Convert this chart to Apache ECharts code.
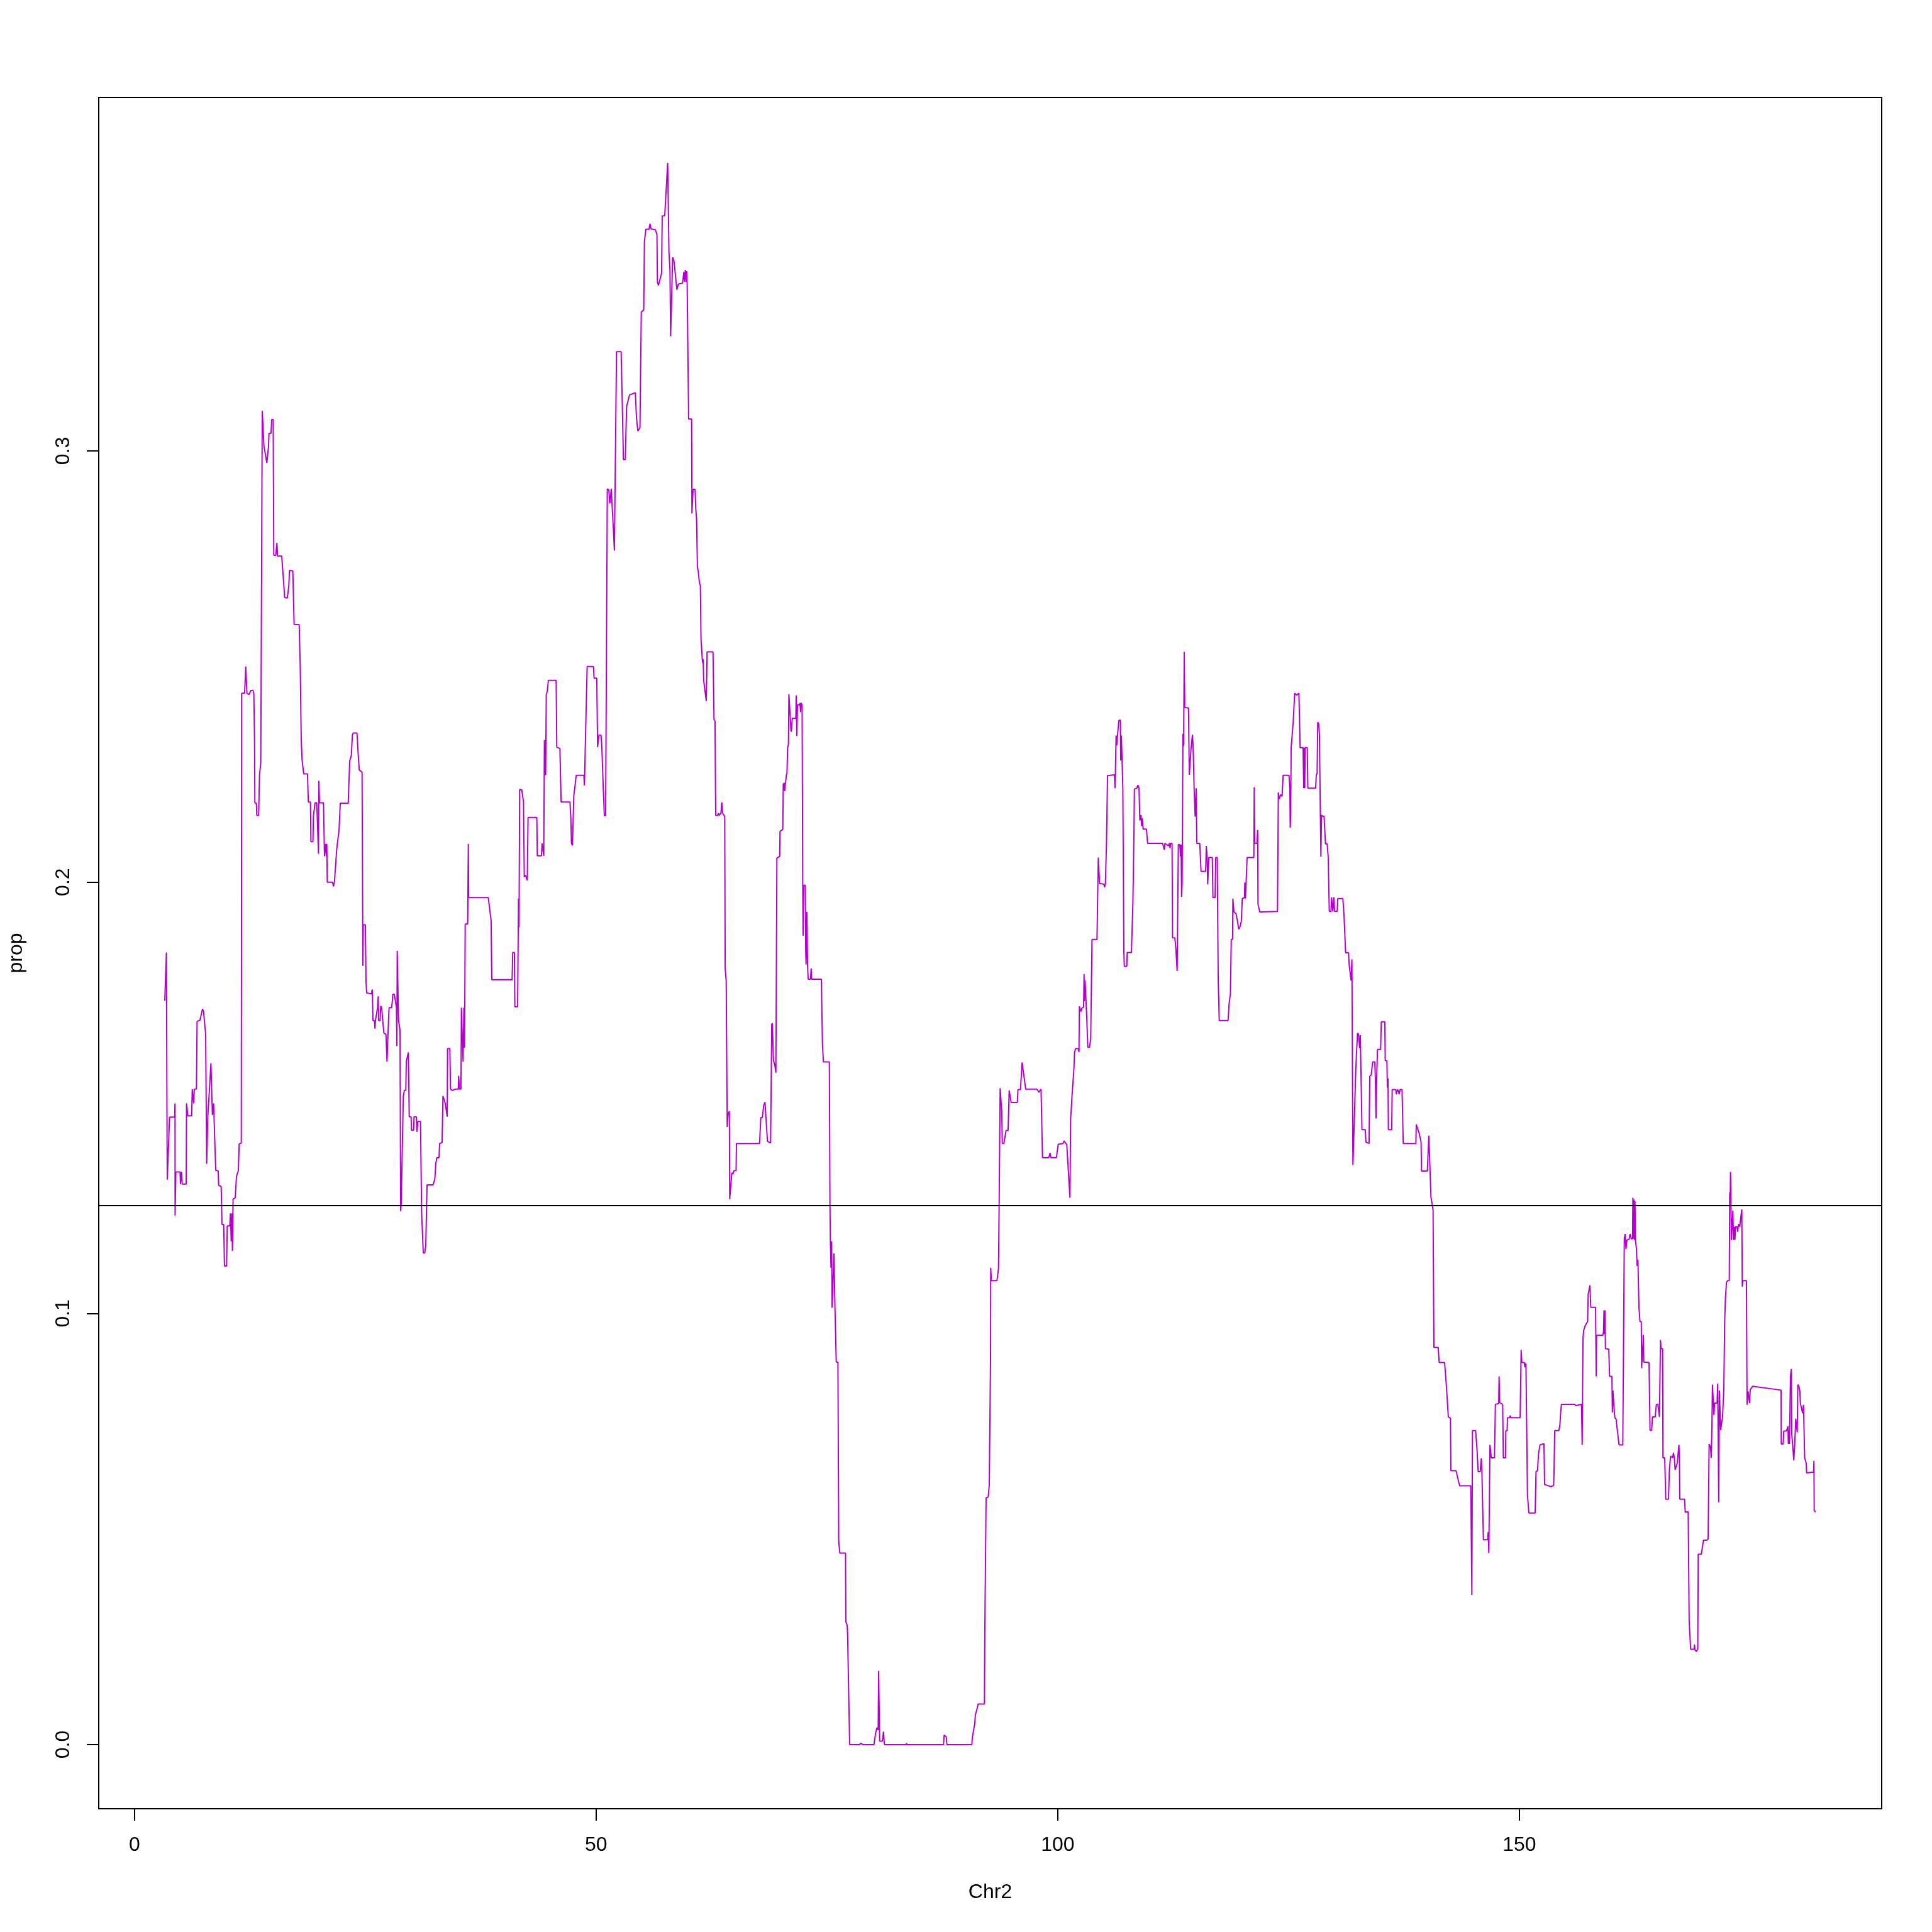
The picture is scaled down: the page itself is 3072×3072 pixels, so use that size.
<!DOCTYPE html>
<html>
<head>
<meta charset="utf-8">
<title>prop along Chr2</title>
<script src="https://cdn.jsdelivr.net/npm/echarts@6/dist/echarts.min.js"></script>
<style>
  html, body { margin: 0; padding: 0; background: #ffffff; }
  #chart { width: 3072px; height: 3072px; }
</style>
</head>
<body>
<div id="chart"></div>
<script>
// ---- data ----
const xTicks = [0, 50, 100, 150];
const yTicks = [0.0, 0.1, 0.2, 0.3];
const threshold = 0.125;
const xTitle = 'Chr2';
const yTitle = 'prop';

const chrPos = [
3.28,3.46,3.51,3.55,3.62,3.69,3.80,4.35,4.39,4.40,4.48,4.94,4.98,5.10,5.17,5.60,5.64,5.78,6.19,6.26,
6.41,6.48,6.71,6.78,7.10,7.37,7.48,7.71,7.82,7.94,8.12,8.28,8.44,8.57,8.66,8.80,9.07,9.12,9.39,9.48,
9.66,9.75,9.98,10.05,10.32,10.39,10.48,10.55,10.61,10.68,10.91,11.05,11.25,11.34,11.57,11.61,11.93,12.05,12.18,12.41,
12.59,12.82,12.93,13.00,13.04,13.20,13.25,13.45,13.54,13.68,13.80,13.84,13.93,14.02,14.13,14.34,14.52,14.57,14.79,14.86,
15.02,15.09,15.31,15.43,15.50,15.95,16.27,16.56,16.72,16.79,17.15,17.29,17.84,17.95,18.06,18.15,18.33,18.74,18.83,19.06,
19.11,19.33,19.38,19.47,19.56,19.74,19.79,19.88,19.93,19.97,20.04,20.47,20.58,20.72,20.79,20.83,20.88,21.45,21.56,21.67,
21.90,22.01,22.15,22.29,23.15,23.31,23.49,23.60,23.70,24.10,24.25,24.35,24.65,
24.74,24.78,25.01,25.08,25.15,25.65,25.76,25.83,25.99,26.05,26.10,26.21,26.33,26.40,26.44,26.60,26.67,26.78,27.01,27.24,
27.35,27.47,27.53,27.58,27.85,27.92,27.98,28.14,28.37,28.42,28.46,28.53,28.60,28.76,28.83,28.89,29.12,29.23,29.39,29.44,
29.57,29.66,29.73,29.76,29.96,30.00,30.23,30.28,30.53,30.60,30.69,30.98,31.10,31.21,31.28,31.44,31.55,31.69,32.34,32.53,
32.64,32.75,32.98,33.05,33.32,33.41,33.53,33.66,33.77,33.87,33.91,34.16,34.23,34.43,34.73,35.07,35.11,35.20,35.36,35.41,
35.52,35.59,35.68,35.75,35.82,36.09,36.16,36.20,38.32,38.63,38.70,40.90,40.97,41.15,41.20,41.50,41.59,41.65,41.72,41.95,
42.13,42.22,42.36,42.54,42.63,43.58,43.63,44.08,44.15,44.26,44.33,44.40,44.53,44.60,44.71,44.83,45.67,45.74,46.08,46.21,
47.17,47.26,47.33,47.44,47.58,47.85,48.67,48.73,49.03,49.71,49.78,50.07,50.16,50.30,50.53,50.62,50.78,50.89,51.03,51.14,
51.21,51.37,51.48,51.64,51.75,51.89,51.98,52.05,52.21,52.71,52.84,52.96,53.16,53.30,53.62,54.25,54.37,54.52,54.75,54.89,
55.16,55.23,55.39,55.73,55.84,55.95,56.41,56.59,56.64,56.75,57.09,57.16,57.43,57.75,57.89,58.00,58.07,58.20,58.29,58.43,
58.75,58.91,59.36,59.50,59.59,59.66,59.77,59.81,59.86,59.97,60.02,60.34,60.38,60.50,60.72,60.79,60.88,60.97,61.06,61.18,
61.29,61.36,61.47,61.52,61.59,61.65,
61.93,62.02,62.66,62.77,62.88,62.95,63.18,63.25,63.34,63.52,63.61,63.70,63.86,63.93,63.98,64.09,64.20,64.29,64.43,64.47,
64.59,64.70,64.82,64.93,65.16,65.20,67.70,67.84,68.00,68.15,68.29,68.56,68.90,69.02,69.09,69.20,69.36,69.47,69.58,69.88,
69.92,70.22,70.27,70.38,70.42,70.54,70.61,70.67,70.74,70.83,70.88,71.01,71.10,71.15,71.24,71.63,71.67,71.74,71.81,72.01,
72.08,72.15,72.19,72.31,72.38,72.42,72.49,72.65,72.70,72.74,72.83,72.90,72.97,73.22,73.29,73.35,74.40,74.51,74.62,75.26,
75.33,75.37,75.44,75.51,75.56,75.67,75.76,75.83,75.87,75.96,76.01,76.19,76.28,76.40,77.01,77.05,77.19,77.24,77.37,77.46,
78.55,78.67,78.90,80.10,80.26,80.41,80.55,80.60,80.66,80.71,81.01,81.12,81.23,82.87,
83.55,83.61,83.68,87.63,87.70,87.92,88.00,90.70,90.74,90.86,91.01,91.08,91.26,91.38,92.06,92.10,92.24,92.47,92.58,92.67,
92.72,92.74,92.81,93.42,93.58,93.65,93.76,93.87,93.94,93.99,94.17,94.40,94.62,94.74,94.96,95.62,95.69,95.96,96.14,96.53,
97.73,97.96,98.19,98.35,99.03,99.17,99.26,99.85,100.05,100.57,100.68,100.98,101.14,101.32,101.39,101.55,101.75,101.82,101.94,102.21,
102.30,102.34,102.50,
102.62,102.80,102.85,102.89,102.96,103.03,103.12,103.26,103.44,103.57,103.71,104.25,104.39,104.48,104.53,105.00,105.07,105.16,105.28,105.35,
105.39,106.14,106.21,106.30,106.32,106.39,106.48,106.62,106.78,106.82,106.89,106.98,107.05,107.12,107.16,107.21,107.48,107.52,107.98,108.14,
108.25,108.30,108.57,108.68,108.80,108.89,109.02,109.09,109.16,109.25,109.61,109.73,111.36,111.48,111.54,111.61,111.82,111.98,112.09,112.16,
112.23,112.38,112.43,112.68,112.79,112.93,113.06,113.22,113.29,113.36,113.41,113.47,113.56,113.63,113.70,113.75,114.16,114.25,114.31,114.43,
114.48,114.59,114.66,114.77,114.88,114.99,115.06,115.38,115.52,116.02,116.09,116.18,116.24,116.36,116.74,116.81,117.04,117.11,117.27,117.38,
117.49,118.45,118.56,118.70,118.79,118.93,118.97,119.08,119.31,119.47,119.60,119.72,119.88,119.99,120.22,120.26,120.33,120.44,120.51,121.24,
121.28,121.35,121.58,121.65,121.69,121.88,
123.80,123.89,124.00,124.14,124.30,124.41,125.05,125.14,125.18,125.23,125.28,125.37,125.50,125.66,125.89,126.12,126.23,126.25,126.57,126.64,
126.68,126.75,126.80,127.02,127.09,127.93,128.00,128.09,128.16,128.27,128.34,128.43,128.50,128.57,128.64,128.73,128.84,129.00,129.18,129.29,
129.34,129.41,129.59,129.66,129.73,129.79,129.91,129.98,130.27,130.32,130.88,131.00,131.18,131.50,131.57,131.68,131.77,131.86,131.91,131.97,
132.09,132.27,132.36,132.47,132.59,132.70,132.77,132.88,132.95,133.31,133.38,133.72,133.79,133.95,134.11,134.34,134.40,134.47,134.54,134.63,
134.97,135.04,135.42,135.47,135.65,135.70,135.77,135.81,136.17,136.22,136.61,136.68,136.79,136.90,136.97,137.08,137.29,137.42,138.79,138.83,
139.17,139.35,139.40,140.03,140.19,140.26,140.35,140.42,140.54,140.65,140.74,141.21,141.31,141.90,142.12,142.30,142.53,142.58,143.15,143.30,
143.53,
144.74,144.85,144.92,145.26,145.42,145.53,145.76,145.87,145.94,146.10,146.56,146.62,146.69,146.74,146.81,146.90,146.96,147.30,147.40,147.76,
147.80,147.87,148.19,148.26,148.49,148.53,148.67,148.71,148.94,149.01,149.08,150.08,150.19,150.26,150.53,150.60,150.71,150.80,150.87,151.03,
151.71,151.80,151.96,152.07,152.23,152.66,152.73,153.03,153.44,153.71,153.75,153.82,154.28,154.39,154.46,154.55,155.98,156.10,156.73,156.80,
156.89,156.96,157.11,157.39,157.45,157.57,157.64,157.73,158.25,158.32,158.36,159.04,159.11,159.16,159.20,159.27,159.32,159.68,159.77,160.02,
160.07,160.13,160.22,160.34,160.47,160.79,161.20,161.36,161.45,161.54,161.65,161.88,161.99,162.11,162.25,162.29,162.36,162.40,162.47,162.52,
162.57,162.68,162.75,162.84,162.95,163.06,163.20,163.24,163.36,163.43,163.47,163.59,164.04,
164.15,164.33,164.42,164.71,164.83,164.99,165.17,165.28,165.35,165.51,165.55,165.74,165.85,166.15,166.24,166.37,166.49,166.60,166.69,166.78,
166.87,166.99,167.10,167.28,167.33,167.37,167.89,167.96,168.28,168.35,168.39,168.51,168.55,168.92,168.96,169.03,169.19,169.26,169.32,169.37,
169.71,169.94,170.28,170.44,170.55,170.69,170.78,170.85,170.91,170.98,171.07,171.14,171.41,171.48,171.55,171.59,171.66,171.75,171.80,171.91,
172.00,172.14,172.23,172.32,172.43,172.55,172.73,172.78,172.82,172.87,172.94,172.96,173.05,173.12,173.18,173.28,173.34,173.41,173.57,173.64,
173.73,173.87,174.02,174.09,174.14,174.21,174.59,174.66,174.73,174.77,174.93,175.00,175.27,178.34,178.36,178.57,178.63,178.91,179.09,179.13,
179.18,179.25,179.32,179.36,179.45,179.50,179.59,179.72,179.82,179.93,180.04,180.09,180.16,180.27,180.38,180.43,180.56,180.68,180.77,180.84,
180.90,181.06,181.11,181.86,181.90,181.93,182.08
];

const propVals = [
.1725,.1837,.1527,.131,.131,.139,.1455,.1455,.1487,.1227,.1328,.1328,.130,.1328,.130,.130,.1487,.1458,.1458,.152,
.1487,.152,.152,.1677,.168,.1706,.170,.1647,.1347,.1455,.152,.158,.146,.1487,.1487,.1332,.133,.1297,.1294,.1206,
.1206,.111,.111,.1203,.1203,.1232,.1167,.1232,.1145,.1265,.1268,.1318,.1331,.1393,.1395,.2438,.2438,.250,.2438,.2435,
.2444,.2445,.2438,.2334,.2184,.2183,.2155,.2155,.2248,.2277,.2277,.3093,.3093,.3012,.3010,.2972,.3012,.3041,.3041,.3073,
.3073,.2758,.2758,.2787,.2756,.2756,.266,.2659,.2689,.2723,.2722,.2598,.2597,.2503,.2334,.2284,.2251,.2251,.2186,.2186,
.2094,.2094,.2153,.2153,.2184,.2184,.2154,.2154,.2066,.2235,.2184,.2184,.206,.2089,.206,.2089,.200,.200,.199,.2003,
.2075,.2096,.2118,.2183,.2183,.2281,.2294,.2341,.2346,.2346,.2290,.2260,.2255,
.1806,.1901,.1901,.1769,.1743,.1741,.1751,.1679,.1679,.166,.1679,.1679,.1709,.1735,.1679,.1679,.1713,.1707,.1650,.1647,
.1584,.1584,.1689,.1709,.1709,.1722,.1740,.1740,.1709,.1620,.1841,.1841,.1679,.1657,.1237,.1255,.1504,.1517,.1517,.1584,
.1586,.1605,.1606,.1456,.1456,.1425,.1425,.1456,.1456,.1421,.1445,.1445,.1234,.1234,.1140,.1140,.1158,.1298,.1298,.1311,
.1348,.1361,.1361,.1394,.1396,.1504,.1497,.1487,.1487,.1456,.1614,.1614,.1520,.1517,.1520,.1520,.1551,.1520,.1520,.1709,
.1709,.1584,.1709,.1616,.1903,.1903,.2089,.1964,.1964,.1910,.1774,.1774,.1837,.1837,.1711,.1711,.1962,.1895,.2215,.2214,
.2187,.2012,.2016,.2004,.2150,.2150,.2061,.2061,.2090,.2090,.2061,.2330,.2248,.2435,.2443,.2468,.2468,.2313,.2310,.2186,
.2186,.2150,.2090,.2085,.2199,.2248,.2248,.2224,.2500,.2500,.2473,.2473,.2313,.2341,.2341,.2313,.2216,.2154,.2154,.2614,
.2912,.2910,.2878,.2912,.2910,.2810,.2769,.2769,.3230,.3230,.3103,.2980,.2980,.3103,.3130,.3135,.3078,.3046,.3054,.3322,
.3327,.3485,.3514,.3514,.3527,.3515,.3513,.3502,.3392,.3384,.3412,.3545,.3545,.3668,.3461,.3420,.3266,.3266,.3449,.3441,
.3374,.3387,.3389,.3415,.3392,.3420,.3392,.3417,.3387,.3387,.3074,.3074,.2855,.2911,.2911,.2867,.2842,.2732,.2721,.2696,
.2688,.2566,.2566,.2509,.2517,.2468,
.2420,.2534,.2534,.2378,.2373,.2155,.2155,.2160,.2155,.2160,.2185,.2160,.2155,.2150,.1800,.1770,.1432,.1462,.1469,.1265,
.1265,.1326,.1323,.1331,.1331,.1394,.1394,.1454,.1454,.1482,.1490,.1399,.1395,.1670,.1673,.1588,.1575,.1558,.2056,.2060,
.2118,.2122,.2227,.2230,.2211,.2211,.2249,.2252,.2311,.2320,.2436,.2436,.2353,.2349,.2380,.2380,.2433,.2339,.2411,.2411,
.2415,.2394,.2416,.2411,.1993,.1876,.1993,.1993,.1842,.1809,.1931,.1809,.1775,.1775,.1800,.1775,.1775,.1625,.1583,.1583,
.1248,.1172,.1106,.1167,.1013,.1013,.1139,.1139,.1013,.1013,.0887,.0887,.0469,.0444,.0444,.0285,.0277,.0255,.0255,.0000,
.0000,.0003,.0000,.0000,.0025,.0039,.0034,.0171,.0171,.0008,.0008,.0030,.0000,.0000,
.0000,.0003,.0000,.0000,.0022,.0018,.0000,.0000,.0015,.0017,.0049,.0069,.0083,.0094,.0094,.0262,.0572,.0574,.0602,.0602,
.0897,.1106,.1076,.1076,.1104,.1249,.1522,.1524,.1467,.1394,.1394,.1424,.1424,.1517,.1489,.1489,.1519,.1519,.1582,.1520,
.1520,.1513,.1520,.1361,.1361,.1372,.1361,.1361,.1392,.1394,.1400,.1391,.1332,.1268,.1448,.1506,.1567,.1606,.1614,.1614,
.1606,.1712,.1700,
.1708,.1710,.1787,.1724,.1772,.1772,.1697,.1617,.1617,.1637,.1867,.1867,.2057,.2057,.1997,.1995,.1988,.1997,.2090,.2090,
.2247,.2249,.2218,.2218,.2340,.2317,.2342,.2375,.2376,.2282,.2340,.2342,.2218,.2218,.1838,.1805,.1805,.1837,.1837,.1953,
.2112,.2216,.2218,.2225,.2218,.2143,.2156,.2130,.2148,.2123,.2123,.2090,.2090,.2088,.2075,.2090,.2087,.2084,.2090,.2079,
.2090,.2090,.1871,.1871,.1847,.1794,.2087,.2087,.2059,.2087,.1966,.1997,.2344,.2316,.2534,.2405,.2404,.2249,.2249,.2308,
.2306,.2342,.2315,.2218,.2152,.2218,.2090,.2090,.2025,.2025,.2084,.2059,.1995,.2057,.2057,.1964,.1964,.2057,.2057,.1776,
.1679,.1679,.1719,.1741,.1867,.1867,.1962,.1931,.1927,.1909,.1891,.1895,.1909,.1962,.1964,.1999,.1962,.1962,.2057,.2057,
.2220,.2090,.2090,.2121,.1949,.1931,
.1932,.2208,.2193,.2203,.2199,.2248,.2248,.2216,.2126,.2156,.2312,.2312,.2371,.2438,.2434,.2438,.2438,.2312,.2312,.2218,
.2312,.2218,.2312,.2312,.2218,.2218,.2248,.2252,.2371,.2367,.2342,.2342,.2059,.2156,.2153,.2153,.2153,.2089,.2089,.2059,
.2059,.1932,.1932,.1965,.1965,.1932,.1965,.1932,.1932,.1962,.1962,.1925,.1836,.1836,.1806,.1806,.1772,.1821,.1821,.1344,
.1426,.1560,.1605,.1650,.1647,.1615,.1645,.1645,.1426,.1426,.1397,.1394,.1550,.1553,.1583,.1583,.1545,.1452,.1545,.1612,
.1612,.1676,.1676,.1586,.1586,.1523,.1545,.1426,.1426,.1519,.1519,.1508,.1519,.1516,.1508,.1519,.1519,.1394,.1394,.1438,
.1416,.1397,.1330,.1330,.1412,.1412,.1315,.1270,.1255,.1240,.0921,.0921,.0886,.0886,.0824,.0760,.0757,.0635,.0635,.0620,
.0600,
.0600,.0347,.0728,.0728,.0681,.0633,.0633,.0664,.0633,.0475,.0475,.0493,.0444,.0444,.0695,.0695,.0665,.0665,.0789,.0791,
.0854,.0793,.0789,.0665,.0665,.0727,.0728,.0758,.0758,.0763,.0758,.0758,.0915,.0886,.0886,.0875,.0884,.0720,.0580,.0537,
.0537,.0633,.0635,.0674,.0695,.0698,.0603,.0601,.0598,.0601,.0629,.0728,.0728,.0742,.0767,.0789,.0789,.0786,.0789,.0695,
.0943,.0960,.0971,.0981,.1044,.1045,.1065,.1014,.1014,.0854,.0949,.0949,.0958,.1007,.0952,.1007,.0918,.0917,.0854,.0854,
.0770,.0821,.0789,.0758,.0755,.0695,.0695,.1173,.1184,.1149,.1170,.1172,.1184,.1173,.1173,.1268,.1173,.1264,.1170,.1260,
.1170,.1149,.1110,.1124,.1013,.0981,.0981,.0873,.0873,.0950,.0887,.0887,.0886,
.0729,.0729,.0760,.0760,.0788,.0790,.0760,.0938,.0918,.0918,.0665,.0665,.0569,.0569,.0634,.0669,.0670,.0665,.0677,.0665,
.0637,.0635,.0653,.0695,.0665,.0569,.0569,.0539,.0540,.0542,.0284,.0282,.0221,.0221,.0232,.0219,.0216,.0215,.0222,.0441,
.0442,.0474,.0474,.0477,.0697,.0690,.0665,.0737,.0835,.0835,.0764,.0792,.0792,.0837,.0837,.0562,.0821,.0820,.0729,.0729,
.0760,.0823,.0977,.1037,.1072,.1076,.1076,.1280,.1250,.1328,.1328,.1170,.1170,.1238,.1170,.1201,.1170,.1201,.1201,.1189,
.1207,.1201,.1230,.1241,.1062,.1076,.1076,.0788,.0788,.0819,.0792,.0823,.0831,.0822,.0697,.0697,.0727,.0727,.0738,.0697,
.0729,.0697,.0697,.0855,.0871,.0720,.0697,.0659,.0697,.0756,.0756,.0724,.0835,.0831,.0819,.0792,.0790,.0768,.0788,.0790,
.0665,.0653,.0630,.0632,.0658,.0543,.0539
];

// ---- build the series from the named arrays ----
const n = Math.min(chrPos.length, propVals.length);
const lineData = [];
for (let i = 0; i < n; i++) lineData.push([chrPos[i], propVals[i]]);

const FONT = '"Liberation Sans", Arial, Helvetica, sans-serif';
const chart = echarts.init(document.getElementById('chart'), null, { renderer: 'canvas', width: 3072, height: 3072 });

chart.setOption({
  animation: false,
  backgroundColor: '#ffffff',
  textStyle: { fontFamily: FONT },
  grid: {
    left: 157, right: 80, top: 155, bottom: 196,
    show: true, borderColor: '#000000', borderWidth: 2, backgroundColor: 'transparent'
  },
  xAxis: {
    type: 'value',
    position: 'bottom',
    min: -3.87, max: 189.24,
    name: xTitle, nameLocation: 'middle', nameGap: 117,
    nameTextStyle: { fontSize: 32, color: '#000', fontFamily: FONT },
    axisLine: { show: false, onZero: false },
    splitLine: { show: false },
    axisTick: { show: true, inside: false, length: 19, customValues: xTicks, lineStyle: { color: '#000', width: 2 } },
    axisLabel: { customValues: xTicks, fontSize: 32, color: '#000', fontFamily: FONT, margin: 42,
      formatter: v => String(Math.round(v)) }
  },
  yAxis: {
    type: 'value',
    position: 'left',
    min: -0.01488, max: 0.38197,
    name: yTitle, nameLocation: 'middle', nameGap: 115,
    nameTextStyle: { fontSize: 32, color: '#000', fontFamily: FONT },
    axisLine: { show: false, onZero: false },
    splitLine: { show: false },
    axisTick: { show: true, inside: false, length: 19, customValues: yTicks, lineStyle: { color: '#000', width: 2 } },
    axisLabel: { customValues: yTicks, fontSize: 32, color: '#000', fontFamily: FONT, margin: 40, rotate: 90,
      formatter: v => Number(v).toFixed(1) }
  },
  series: [{
    type: 'line',
    data: lineData,
    symbol: 'none',
    showSymbol: false,
    clip: true,
    lineStyle: { color: '#B400CD', width: 2 },
    markLine: {
      silent: true,
      symbol: 'none',
      precision: 6,
      label: { show: false },
      lineStyle: { color: '#000000', width: 2, type: 'solid' },
      data: [{ yAxis: threshold }]
    }
  }]
});
</script>
</body>
</html>
